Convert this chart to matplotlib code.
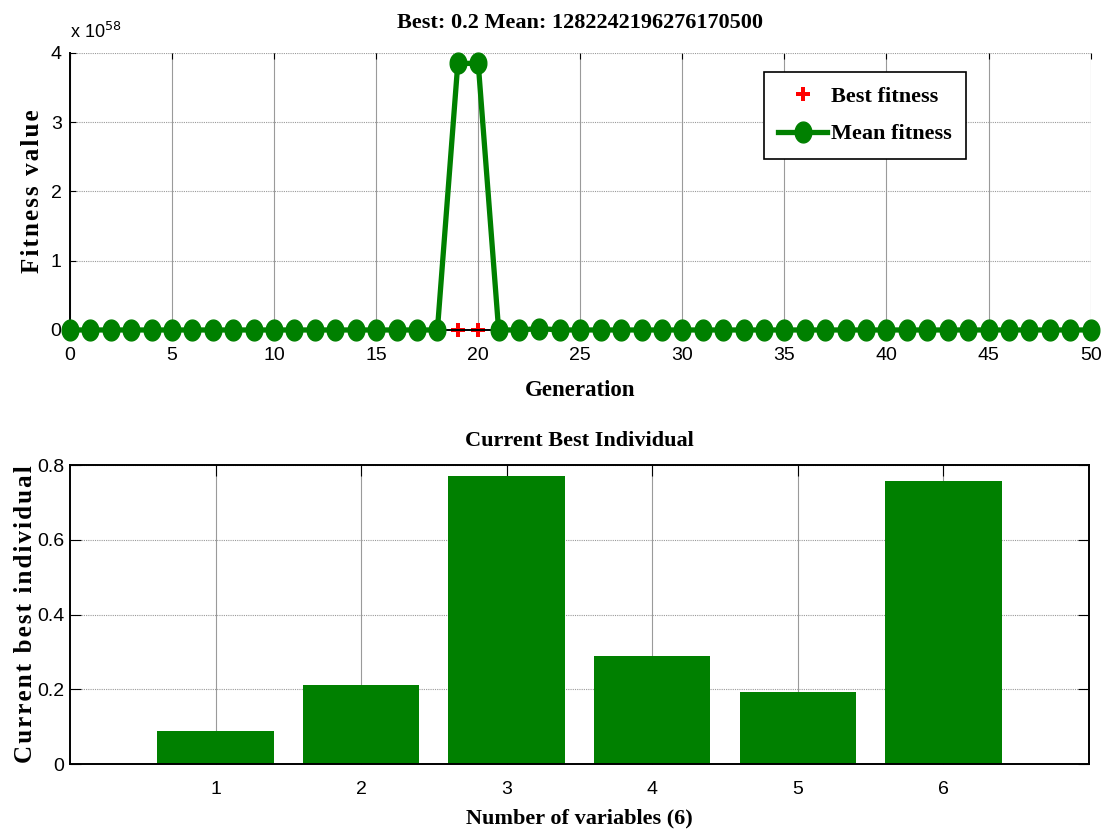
import numpy as np
import matplotlib
matplotlib.use("Agg")
import matplotlib.pyplot as plt
from matplotlib.path import Path
from matplotlib.ticker import FuncFormatter

# ---- data ----
generations = list(range(0, 51))
mean_fitness = [0.0] * 51
mean_fitness[19] = 3.85e58
mean_fitness[20] = 3.85e58
mean_fitness[23] = 0.02e58
best_fitness = [0.2] * 51

variables = [1, 2, 3, 4, 5, 6]
best_individual = [0.089, 0.211, 0.770, 0.289, 0.193, 0.757]

title_top = "Best: 0.2 Mean: 1282242196276170500"
title_bottom = "Current Best Individual"

GREEN = "#008000"
serif_bold = dict(family=["Liberation Serif", "DejaVu Serif"], weight="bold")

plt.rcParams["font.family"] = ["Liberation Sans", "DejaVu Sans"]
plt.rcParams["font.size"] = 14


def spaced(s):
    """Widen the letter spacing of a label with hair spaces."""
    return "\u200a".join(s)


# tall ellipse marker
t = np.linspace(0, 2 * np.pi, 40)
ellipse = Path(np.column_stack([0.8 * np.cos(t), np.sin(t)]))

fig = plt.figure(figsize=(11.05, 8.32), dpi=100)

# ---- top: fitness per generation ----
ax1 = fig.add_axes([0.0633, 0.6034, 0.9237, 0.3329])
ax1.plot(generations, mean_fitness, color=GREEN, lw=3.8, marker=ellipse,
         markersize=15, markeredgecolor=GREEN, markerfacecolor=GREEN,
         clip_on=False, zorder=3, label="Mean fitness")
ax1.plot(generations, best_fitness, linestyle="none", marker="P",
         markersize=10, color="red", markeredgewidth=0, clip_on=False,
         zorder=2, label="Best fitness")
ax1.set_xlim(0, 50)
ax1.set_ylim(0, 4e58)
ax1.set_xticks(range(0, 51, 5))
ax1.set_yticks([0, 1e58, 2e58, 3e58, 4e58])
ax1.yaxis.set_major_formatter(FuncFormatter(lambda v, p: f"{v / 1e58:g}"))
ax1.tick_params(direction="in", length=4, top=True, right=False,
                labelsize=14, pad=6)
ax1.tick_params(axis="x", pad=12)
ax1.grid(True, axis="x", color="#9a9a9a", lw=0.8, ls="-")
ax1.grid(True, axis="y", color="#9a9a9a", lw=0.8, ls=(0, (1, 1)))
for s in ("top", "right"):
    ax1.spines[s].set_visible(False)
ax1.spines["left"].set_linewidth(1.4)
ax1.spines["bottom"].set_linewidth(1.4)
ax1.set_axisbelow(True)
ax1.set_title(title_top, fontsize=16, pad=18, **serif_bold)
ax1.set_xlabel("Generation", fontsize=16.5, labelpad=12, **serif_bold)
ax1.set_ylabel(spaced("Fitness value"), fontsize=18, **serif_bold)
ax1.yaxis.set_label_coords(-0.025, 0.5)
ax1.text(0.0, 1.04, r"x 10$^{58}$", transform=ax1.transAxes,
         fontsize=13, ha="left", va="bottom")

h_mean, h_best = ax1.get_legend_handles_labels()[0]
leg = ax1.legend([h_best, h_mean], ["Best fitness", "Mean fitness"],
                 loc="upper right", bbox_to_anchor=(0.8776, 0.931),
                 borderaxespad=0,
                 prop=dict(family=["Liberation Serif"], weight="bold", size=16),
                 handlelength=2.2, handletextpad=0.15, borderpad=0.65,
                 labelspacing=0.75, fancybox=False, framealpha=1,
                 edgecolor="black")
leg.get_frame().set_linewidth(1.2)

# ---- bottom: current best individual ----
ax2 = fig.add_axes([0.0633, 0.0817, 0.9222, 0.3594])
ax2.bar(variables, best_individual, width=0.8, color=GREEN, zorder=2)
ax2.set_xlim(0, 7)
ax2.set_ylim(0, 0.8)
ax2.set_xticks(variables)
ax2.set_yticks([0, 0.2, 0.4, 0.6, 0.8])
ax2.yaxis.set_major_formatter(FuncFormatter(lambda v, p: f"{v:g}"))
ax2.tick_params(direction="in", length=8, top=True, right=True,
                labelsize=14, pad=4)
ax2.tick_params(axis="x", pad=12)
ax2.grid(True, axis="x", color="#9a9a9a", lw=0.8, ls="-")
ax2.grid(True, axis="y", color="#9a9a9a", lw=0.8, ls=(0, (1, 1)))
ax2.set_axisbelow(True)
for s in ax2.spines.values():
    s.set_linewidth(1.4)
ax2.set_title(title_bottom, fontsize=16, pad=14, **serif_bold)
ax2.set_xlabel("Number of variables (6)", fontsize=16, labelpad=8, **serif_bold)
ax2.set_ylabel(spaced("Current best individual"), fontsize=18, **serif_bold)
ax2.yaxis.set_label_coords(-0.032, 0.5)

fig.savefig("out.png", dpi=100)
